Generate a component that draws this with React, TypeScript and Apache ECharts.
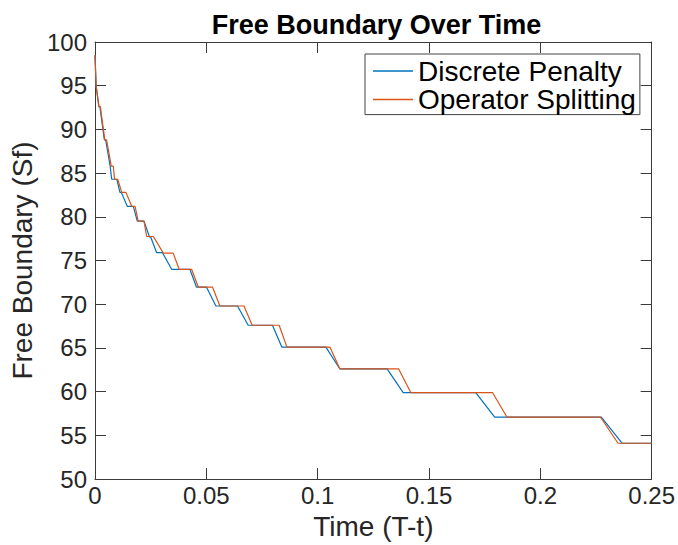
import React, { useEffect, useRef } from "react";
import * as echarts from "echarts";

const chartTitle = "Free Boundary Over Time";
const xName = "Time (T-t)";
const yName = "Free Boundary (Sf)";
const seriesNames = ["Discrete Penalty", "Operator Splitting"];

// [time, free boundary] for Discrete Penalty
const discretePenalty: [number, number][] = [
  [0, 98.5], [0.0005, 95.0], [0.0017, 92.6], [0.0022, 92.6], [0.0042, 88.8],
  [0.0048, 88.8], [0.0068, 85.8], [0.0075, 84.3], [0.0098, 84.3], [0.0112, 82.8],
  [0.0118, 82.8], [0.0145, 81.2], [0.0172, 81.2], [0.019, 79.5], [0.022, 79.5],
  [0.0245, 77.7], [0.025, 77.7], [0.0277, 75.9], [0.0303, 75.9], [0.0344, 74.0],
  [0.0426, 74.0], [0.0456, 71.95], [0.0501, 71.95], [0.0543, 69.8], [0.064, 69.8],
  [0.0688, 67.6], [0.0797, 67.6], [0.0839, 65.1], [0.1037, 65.1], [0.11, 62.6],
  [0.1312, 62.6], [0.1384, 59.9], [0.171, 59.9], [0.1795, 57.1], [0.2274, 57.1],
  [0.2368, 54.1], [0.25, 54.1],
];

// [time, free boundary] for Operator Splitting
const operatorSplitting: [number, number][] = [
  [0, 98.5], [0.0005, 95.0], [0.0018, 92.6], [0.0024, 92.6], [0.0044, 88.8],
  [0.0052, 88.8], [0.0073, 85.8], [0.0082, 85.8], [0.0088, 84.3], [0.0102, 84.3],
  [0.012, 82.8], [0.0139, 82.8], [0.0165, 81.2], [0.018, 81.2], [0.0194, 79.5],
  [0.022, 79.5], [0.0232, 77.75], [0.0262, 77.75], [0.0307, 75.85], [0.0351, 75.85],
  [0.0378, 74.0], [0.0434, 74.0], [0.0464, 71.95], [0.0528, 71.95], [0.0561, 69.8],
  [0.0669, 69.8], [0.0706, 67.6], [0.0827, 67.6], [0.0862, 65.1], [0.1055, 65.1],
  [0.11, 62.6], [0.1364, 62.6], [0.1418, 59.9], [0.1785, 59.9], [0.185, 57.1],
  [0.227, 57.1], [0.2349, 54.1], [0.25, 54.1],
];

const xMin = 0, xMax = 0.25, xStep = 0.05;
const yMin = 50, yMax = 100, yStep = 5;

const FONT = "'Liberation Sans', Arial, Helvetica, sans-serif";
const AXIS_COLOR = "#3a3a3a";
const TEXT_COLOR = "#262626";

export default function App() {
  const ref = useRef<HTMLDivElement>(null);
  useEffect(() => {
    if (!ref.current) return;
    const chart = echarts.init(ref.current, undefined, { renderer: "svg" });
    const axisLine = { show: true, onZero: false, lineStyle: { color: AXIS_COLOR, width: 1 } };
    const axisTick = { show: true, inside: true, length: 11, lineStyle: { color: AXIS_COLOR, width: 1 } };
    chart.setOption({
      animation: false,
      backgroundColor: "#fff",
      title: {
        text: chartTitle,
        left: 371.5,
        textAlign: "center",
        top: 6,
        textStyle: { fontFamily: FONT, fontSize: 27, fontWeight: "bold", color: "#000" },
      },
      legend: {
        orient: "vertical",
        left: 365,
        top: 54,
        padding: [3, 4, 1, 8],
        itemGap: 0.6,
        itemWidth: 40,
        itemHeight: 1.5,
        icon: "rect",
        backgroundColor: "#fff",
        borderColor: "#444",
        borderWidth: 1,
        borderRadius: 0,
        textStyle: { fontFamily: FONT, fontSize: 28, lineHeight: 27, color: "#000" },
        data: seriesNames,
      },
      grid: { left: 95, right: 26, top: 42, bottom: 64, containLabel: false },
      xAxis: [
        {
          type: "value",
          min: xMin,
          max: xMax,
          interval: xStep,
          position: "bottom",
          name: xName,
          nameLocation: "middle",
          nameGap: 29,
          nameTextStyle: { fontFamily: FONT, fontSize: 28, color: TEXT_COLOR },
          axisLine,
          axisTick,
          splitLine: { show: false },
          axisLabel: { fontFamily: FONT, fontSize: 24, color: TEXT_COLOR, margin: 4 },
        },
        {
          type: "value",
          min: xMin,
          max: xMax,
          interval: xStep,
          position: "top",
          axisLine,
          axisTick,
          splitLine: { show: false },
          axisLabel: { show: false },
        },
      ],
      yAxis: [
        {
          type: "value",
          min: yMin,
          max: yMax,
          interval: yStep,
          position: "left",
          name: yName,
          nameLocation: "middle",
          nameGap: 48,
          nameRotate: 90,
          nameTextStyle: { fontFamily: FONT, fontSize: 28, color: TEXT_COLOR },
          axisLine,
          axisTick,
          splitLine: { show: false },
          axisLabel: { fontFamily: FONT, fontSize: 24, color: TEXT_COLOR, margin: 8 },
        },
        {
          type: "value",
          min: yMin,
          max: yMax,
          interval: yStep,
          position: "right",
          axisLine,
          axisTick,
          splitLine: { show: false },
          axisLabel: { show: false },
        },
      ],
      series: [
        {
          name: seriesNames[0],
          type: "line",
          xAxisIndex: 0,
          yAxisIndex: 0,
          data: discretePenalty,
          symbol: "none",
          lineStyle: { color: "#0072BD", width: 1.2 },
          itemStyle: { color: "#0072BD" },
        },
        {
          name: seriesNames[1],
          type: "line",
          xAxisIndex: 0,
          yAxisIndex: 0,
          data: operatorSplitting,
          symbol: "none",
          lineStyle: { color: "#D95319", width: 1.2 },
          itemStyle: { color: "#D95319" },
        },
      ],
    });
    return () => chart.dispose();
  }, []);
  return <div ref={ref} style={{ width: 678, height: 545, position: "absolute", left: 0, top: 0 }} />;
}
